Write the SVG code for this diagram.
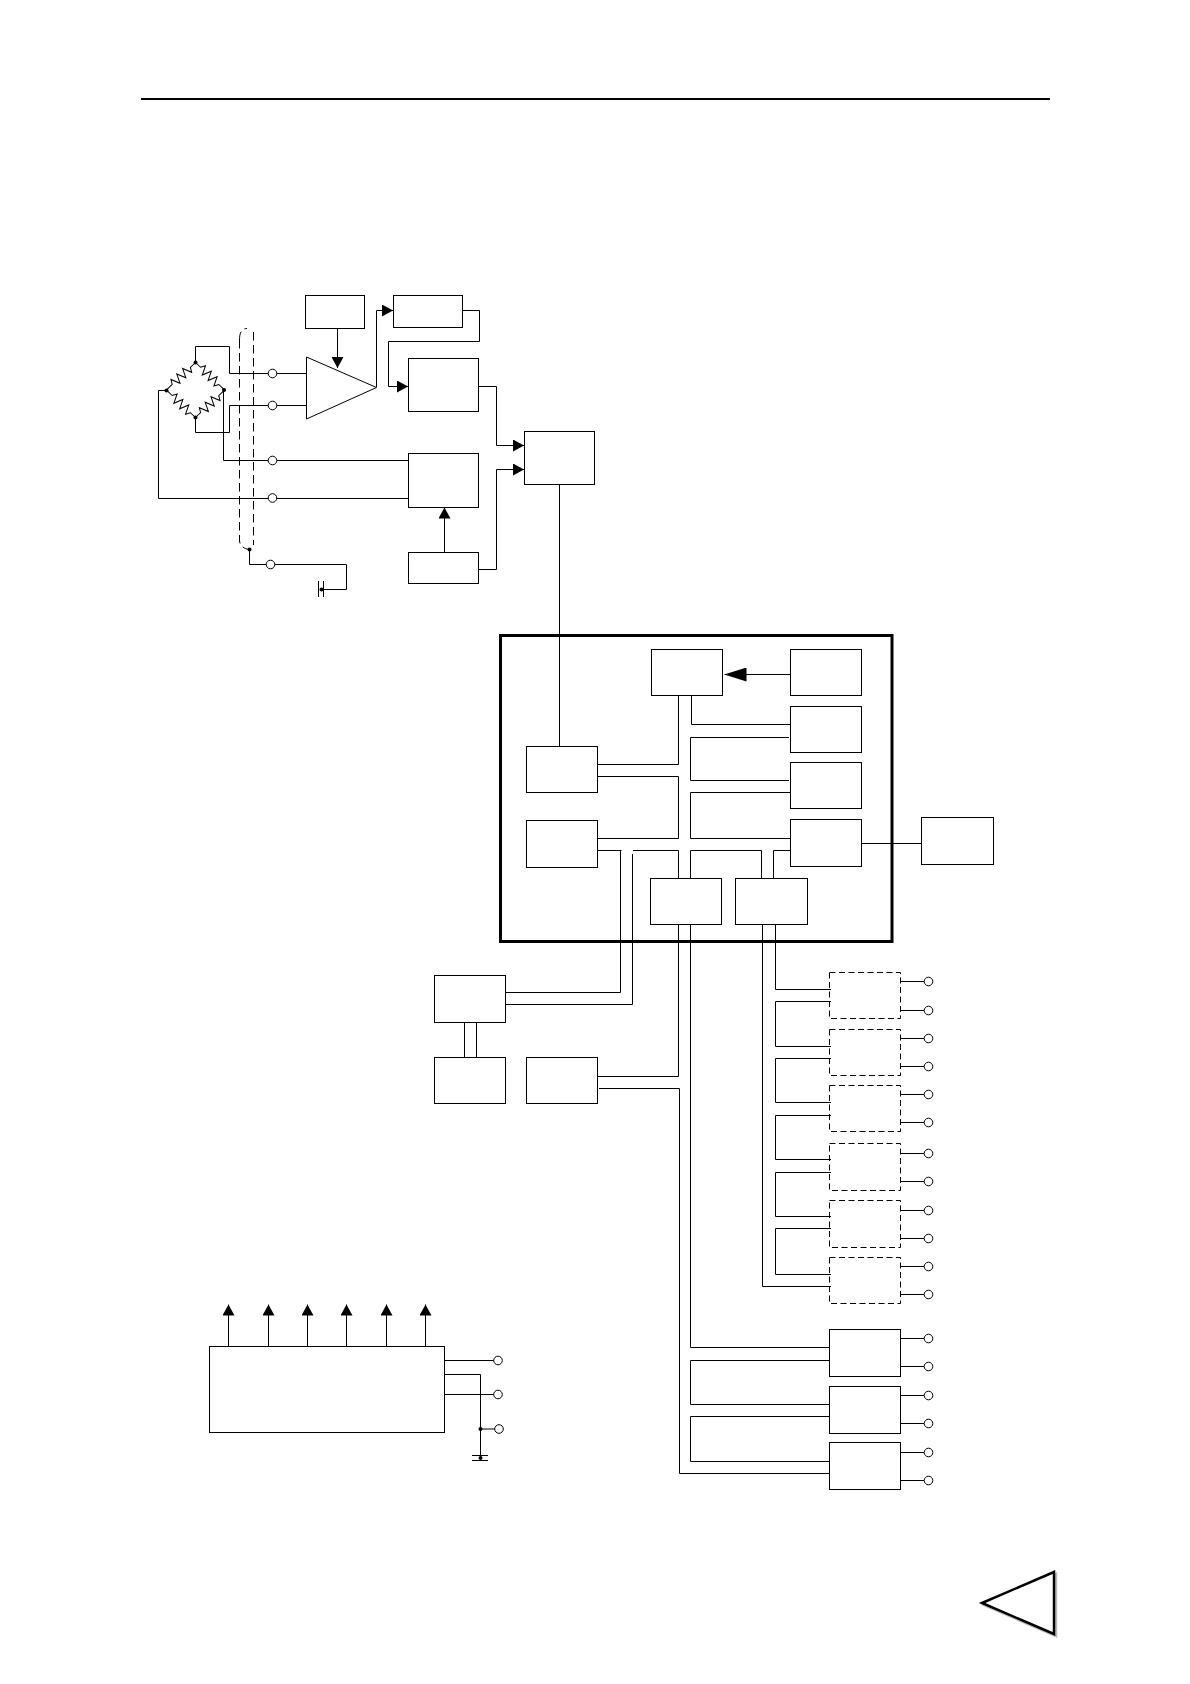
<svg xmlns="http://www.w3.org/2000/svg" xmlns:xlink="http://www.w3.org/1999/xlink" width="1190" height="1684" viewBox="0 0 1190 1684">
<style>
.b{fill:#fff;stroke:#000;stroke-width:1}
.d{fill:none;stroke:#000;stroke-width:1;stroke-dasharray:6 3.5}
.w{fill:none;stroke:#000;stroke-width:1}
.a{marker-end:url(#arr)}
.t{fill:#fff;stroke:#000;stroke-width:1}
.k{fill:#000;stroke:none}
</style>
<defs>
<marker id="arr" viewBox="0 0 11 12" refX="11" refY="6" markerWidth="11" markerHeight="12" markerUnits="userSpaceOnUse" orient="auto"><path d="M0 0L11 6L0 12Z" fill="#000"/></marker>
<marker id="arrL" viewBox="0 0 22 14" refX="22" refY="7" markerWidth="22" markerHeight="14" markerUnits="userSpaceOnUse" orient="auto"><path d="M0 0L22 7L0 14Z" fill="#000"/></marker>
<path id="res" d="M0 0L7 0L9.5 -4.5L13.5 4.5L17.5 -4.5L21.5 4.5L25.5 -4.5L29.5 4.5L32 0L39.8 0" fill="none" stroke="#000" stroke-width="1"/>
<circle id="term" r="4.3" class="t"/>
</defs>
<rect width="1190" height="1684" fill="#fff"/>
<line id="top-rule" x1="141" y1="99" x2="1050" y2="99" stroke="#000" stroke-width="2"/>

<g id="main-frame"><rect x="500.5" y="635.5" width="391.5" height="306" fill="#fff" stroke="#000" stroke-width="3"/></g>

<g id="connectors">
<!-- sensor bridge wiring -->
<path class="w" d="M195.5 362.5V346.5H229.5V373.5H306"/>
<path class="w" d="M195.5 417.5V432.5H229.5V405.5H306"/>
<path class="w" d="M223.5 390V460.5H408"/>
<path class="w" d="M166 390.5H158.5V498.5H408"/>
<path class="w" d="M249.5 549.5V564.5H346.5V589.5H321.5"/>
<path class="w" d="M318.5 581V597M323.5 581V597"/>
<!-- upper chain -->
<path class="w a" d="M337.5 328.5V368"/>
<path class="w a" d="M376.5 387V310.5H393"/>
<path class="w a" d="M463 310.5H479.5V341.5H388.5V386.5H408"/>
<path class="w a" d="M479 386.5H496.5V445.5H524"/>
<path class="w a" d="M479 569.5H496.5V469.5H524"/>
<path class="w a" d="M444.5 552V507.5"/>
<path class="w" d="M559.5 484.5V746.5"/>
<!-- main board bus -->
<path class="w" d="M790 674.5H724.5" marker-end="url(#arrL)"/>
<path class="w" d="M678.5 695.5V764.5H596.5"/>
<path class="w" d="M691.5 695.5V724.5H790"/>
<path class="w" d="M789 737.5H690.5V780.5H789"/>
<path class="w" d="M790 792.5H690.5V838.5H790"/>
<path class="w" d="M598 776.5H678.5V838.5H598"/>
<path class="w" d="M598 850.5H621.5"/>
<path class="w" d="M633 850.5H678.5V878"/>
<path class="w" d="M690.5 878V850.5H761.5V878"/>
<path class="w" d="M773.5 878V850.5H790"/>
<path class="w" d="M862 843.5H921.5"/>
<!-- lines leaving the board -->
<path class="w" d="M620.5 850.5V992.5H506"/>
<path class="w" d="M632.5 854V1004.5H506"/>
<path class="w" d="M464.5 1021V1057.5M476.5 1021V1057.5"/>
<path class="w" d="M678.5 924.5V1076.5H598"/>
<path class="w" d="M599 1088.5H679.5V1473.5H831"/>
<path class="w" d="M690.5 924.5V1347.5H831"/>
<path class="w" d="M830 1360.5H690.5V1404.5H831"/>
<path class="w" d="M830 1416.5H690.5V1461.5H831"/>
<path class="w" d="M775.5 924.5V989.5H831"/>
<path class="w" d="M831 1001.5H775.5V1046.5H831"/>
<path class="w" d="M831 1058.5H775.5V1102.5H831"/>
<path class="w" d="M831 1115.5H775.5V1159.5H831"/>
<path class="w" d="M831 1172.5H775.5V1216.5H831"/>
<path class="w" d="M831 1228.5H775.5V1274.5H831"/>
<path class="w" d="M762.5 924.5V1286.5H831"/>
<!-- output stubs -->
<path class="w" d="M901 981.5H924M901 1010.5H924M901 1038.5H924M901 1066.5H924M901 1094.5H924M901 1122.5H924M901 1153.5H924M901 1181.5H924M901 1210.5H924M901 1238.5H924M901 1266.5H924M901 1294.5H924"/>
<path class="w" d="M901 1338.5H924M901 1366.5H924M901 1395.5H924M901 1423.5H924M901 1452.5H924M901 1480.5H924"/>
<!-- power module -->
<path class="w a" d="M228.5 1346V1304.5"/>
<path class="w a" d="M268.5 1346V1304.5"/>
<path class="w a" d="M307.5 1346V1304.5"/>
<path class="w a" d="M346.5 1346V1304.5"/>
<path class="w a" d="M386.5 1346V1304.5"/>
<path class="w a" d="M425.5 1346V1304.5"/>
<path class="w" d="M445 1360.5H494"/>
<path class="w" d="M445 1374.5H480.5V1458"/>
<path class="w" d="M445 1394.5H494"/>
<path class="w" d="M480.5 1429H495"/>
<path class="w" d="M472 1455.5H488M472 1460.5H488"/>
</g>

<g id="bridge">
<use xlink:href="#res" href="#res" transform="translate(195.5,362.5) rotate(43.3)"/>
<use xlink:href="#res" href="#res" transform="translate(195.5,362.5) rotate(136.7)"/>
<use xlink:href="#res" href="#res" transform="translate(195.5,417.5) rotate(-43.3)"/>
<use xlink:href="#res" href="#res" transform="translate(195.5,417.5) rotate(-136.7)"/>
<circle class="k" cx="195.5" cy="362.5" r="2"/><circle class="k" cx="224" cy="390" r="2"/><circle class="k" cx="195.5" cy="417.5" r="2"/><circle class="k" cx="166.5" cy="390.5" r="2"/>
</g>
<g id="cable">
<path class="w" stroke-dasharray="8.5 4.5" d="M239.5 340C239.5 332 242 328.5 247 328.5M253.5 332V545M239.5 340V541C240 546 244 549 249.5 549.5"/>
<circle class="k" cx="249.5" cy="549.5" r="2"/>
<circle class="k" cx="321.5" cy="589.5" r="2"/>
</g>
<g id="amp"><polygon class="b" points="306.5,357 376.5,387.5 306.5,419"/></g>
<g id="gain"><rect class="b" x="305.5" y="295.5" width="59" height="33"/></g>
<g id="block-b"><rect class="b" x="393.5" y="295.5" width="69" height="32"/></g>
<g id="block-c"><rect class="b" x="408.5" y="358.5" width="70" height="53"/></g>
<g id="block-d"><rect class="b" x="524.5" y="431.5" width="70" height="53"/></g>
<g id="block-e"><rect class="b" x="408.5" y="453.5" width="70" height="54"/></g>
<g id="block-f"><rect class="b" x="408.5" y="552.5" width="70" height="31"/></g>

<g id="m1"><rect class="b" x="651.5" y="649.5" width="71" height="46"/></g>
<g id="m2"><rect class="b" x="790.5" y="649.5" width="71" height="46"/></g>
<g id="m3"><rect class="b" x="790.5" y="706.5" width="71" height="46"/></g>
<g id="m4"><rect class="b" x="790.5" y="762.5" width="71" height="46"/></g>
<g id="m5"><rect class="b" x="790.5" y="819.5" width="71" height="47"/></g>
<g id="l1"><rect class="b" x="526.5" y="746.5" width="71" height="46"/></g>
<g id="l2"><rect class="b" x="526.5" y="820.5" width="71" height="47"/></g>
<g id="b1"><rect class="b" x="650.5" y="878.5" width="71" height="46"/></g>
<g id="b2"><rect class="b" x="735.5" y="878.5" width="72" height="46"/></g>
<g id="ext"><rect class="b" x="921.5" y="817.5" width="72" height="47"/></g>

<g id="ca"><rect class="b" x="434.5" y="975.5" width="71" height="47"/></g>
<g id="cb"><rect class="b" x="434.5" y="1057.5" width="71" height="46"/></g>
<g id="cc"><rect class="b" x="526.5" y="1057.5" width="71" height="46"/></g>

<g id="out1"><rect class="d" x="829.5" y="972.5" width="71" height="46"/></g>
<g id="out2"><rect class="d" x="829.5" y="1029.5" width="71" height="46"/></g>
<g id="out3"><rect class="d" x="829.5" y="1085.5" width="71" height="46"/></g>
<g id="out4"><rect class="d" x="829.5" y="1143.5" width="71" height="47"/></g>
<g id="out5"><rect class="d" x="829.5" y="1200.5" width="71" height="47"/></g>
<g id="out6"><rect class="d" x="829.5" y="1257.5" width="71" height="46"/></g>
<g id="out7"><rect class="b" x="829.5" y="1329.5" width="71" height="47"/></g>
<g id="out8"><rect class="b" x="829.5" y="1386.5" width="71" height="47"/></g>
<g id="out9"><rect class="b" x="829.5" y="1442.5" width="71" height="47"/></g>

<g id="power"><rect class="b" x="209.5" y="1346.5" width="235" height="86"/>
<circle class="k" cx="480.5" cy="1429" r="2"/><circle class="k" cx="480.5" cy="1458" r="2"/></g>

<g id="terminals">
<use href="#term" x="272.5" y="373.5"/><use href="#term" x="272.5" y="405.5"/><use href="#term" x="272.5" y="460.5"/><use href="#term" x="272.5" y="498"/><use href="#term" x="270.5" y="564.5"/>
<use href="#term" x="928.5" y="981.5"/><use href="#term" x="928.5" y="1010.5"/><use href="#term" x="928.5" y="1038.5"/><use href="#term" x="928.5" y="1066.5"/><use href="#term" x="928.5" y="1094.5"/><use href="#term" x="928.5" y="1122.5"/><use href="#term" x="928.5" y="1153.5"/><use href="#term" x="928.5" y="1181.5"/><use href="#term" x="928.5" y="1210.5"/><use href="#term" x="928.5" y="1238.5"/><use href="#term" x="928.5" y="1266.5"/><use href="#term" x="928.5" y="1294.5"/>
<use href="#term" x="928.5" y="1338.5"/><use href="#term" x="928.5" y="1366.5"/><use href="#term" x="928.5" y="1395.5"/><use href="#term" x="928.5" y="1423.5"/><use href="#term" x="928.5" y="1452.5"/><use href="#term" x="928.5" y="1480.5"/>
<use href="#term" x="498" y="1360.5"/><use href="#term" x="498" y="1394.5"/><use href="#term" x="499" y="1429"/>
</g>

<g id="page-mark">
<polygon points="984,1605 1056,1574 1056,1636" fill="#bbb" stroke="#bbb" stroke-width="2.5"/>
<polygon points="982,1603 1054,1572 1054,1634" fill="#fff" stroke="#000" stroke-width="2.5"/>
</g>
</svg>
